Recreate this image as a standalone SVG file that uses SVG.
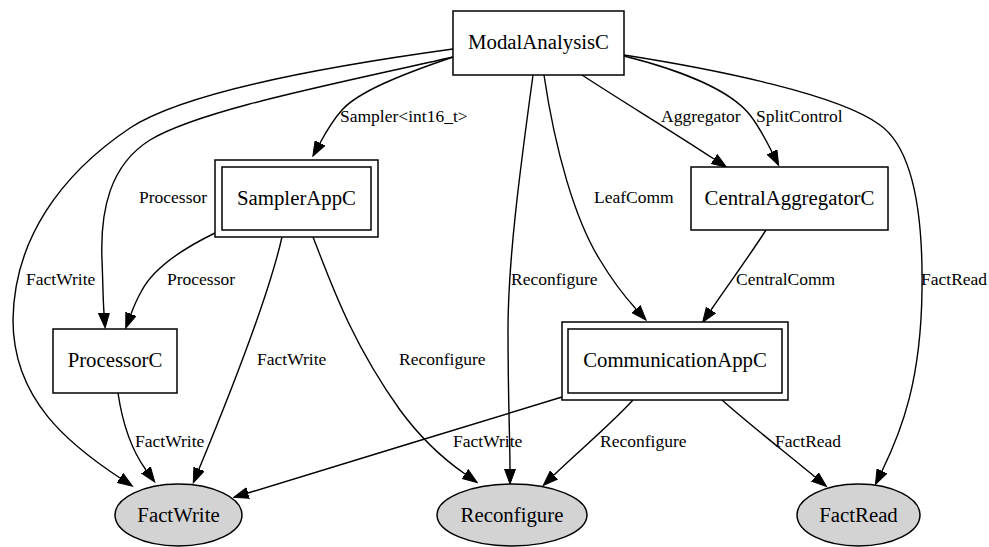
<svg xmlns="http://www.w3.org/2000/svg" width="989" height="547" viewBox="0 0 989 547">
  <style>
    .node rect { fill: #ffffff; stroke: #000000; stroke-width: 1.5; }
    .node ellipse { fill: #d3d3d3; stroke: #000000; stroke-width: 1.5; }
    .node text { font-family: "Liberation Serif", "Times New Roman", serif; font-size: 20.8px; text-anchor: middle; fill: #000000; }
    #edges path { fill: none; stroke: #000000; stroke-width: 1.4; marker-end: url(#arrow); }
    #edges text { font-family: "Liberation Serif", "Times New Roman", serif; font-size: 17.5px; fill: #000000; }
  </style>
  <defs>
    <marker id="arrow" markerUnits="userSpaceOnUse" viewBox="0 -6 16 12" refX="0" refY="0" markerWidth="16" markerHeight="12" orient="auto">
      <path d="M0,-5.5 L15,0 L0,5.5 Z" fill="#000000" stroke="#000000" stroke-width="1"/>
    </marker>
  </defs>
  <rect width="989" height="547" fill="#ffffff"/>

  <g id="edges">
    <!-- ModalAnalysisC -> SamplerAppC -->
    <path d="M453,57 C400,75 358,92 342,110 C332,121 326,132 320,143"/>
    <text x="340" y="122">Sampler&lt;int16_t&gt;</text>
    <!-- ModalAnalysisC -> ProcessorC -->
    <path d="M453,57 C330,85 200,110 150,140 C110,165 100,210 102,260 C103,285 103,300 104,313"/>
    <text x="139" y="203">Processor</text>
    <!-- ModalAnalysisC -> FactWrite -->
    <path d="M453,49 C300,70 180,95 130,128 C60,175 14,240 13,320 C13,400 70,445 120,478"/>
    <text x="26" y="285">FactWrite</text>
    <!-- ModalAnalysisC -> Reconfigure -->
    <path d="M533,75 C520,170 508,260 508,330 C508,400 510,440 510,469"/>
    <text x="511" y="285">Reconfigure</text>
    <!-- ModalAnalysisC -> CommunicationAppC -->
    <path d="M544,75 C555,150 575,220 600,260 C615,285 626,298 636,309"/>
    <text x="594" y="203">LeafComm</text>
    <!-- ModalAnalysisC -> CentralAggregatorC (Aggregator) -->
    <path d="M582,75 C620,100 670,130 714,159"/>
    <text x="661" y="122">Aggregator</text>
    <!-- ModalAnalysisC -> CentralAggregatorC (SplitControl) -->
    <path d="M624,56 C680,70 730,90 750,115 C760,128 766,140 772,152"/>
    <text x="756" y="122">SplitControl</text>
    <!-- ModalAnalysisC -> FactRead -->
    <path d="M624,55 C720,70 840,95 880,125 C915,150 923,220 922,290 C921,380 902,430 882,471"/>
    <text x="921" y="285">FactRead</text>
    <!-- CentralAggregatorC -> CommunicationAppC -->
    <path d="M766,230 C750,255 728,285 711,310"/>
    <text x="736" y="285">CentralComm</text>
    <!-- SamplerAppC -> ProcessorC -->
    <path d="M215,233 C180,250 152,270 141,292 C137,299 134,306 131,314"/>
    <text x="167" y="285">Processor</text>
    <!-- SamplerAppC -> FactWrite -->
    <path d="M282,237 C270,290 240,370 199,469"/>
    <text x="257" y="365">FactWrite</text>
    <!-- SamplerAppC -> Reconfigure -->
    <path d="M313,237 C330,280 350,340 400,410 C422,440 442,458 465,474"/>
    <text x="399" y="365">Reconfigure</text>
    <!-- ProcessorC -> FactWrite -->
    <path d="M118,393 C122,420 130,448 146,470"/>
    <text x="135" y="447">FactWrite</text>
    <!-- CommunicationAppC -> FactWrite -->
    <path d="M562,397 C470,425 340,465 248,493"/>
    <text x="453" y="447">FactWrite</text>
    <!-- CommunicationAppC -> Reconfigure -->
    <path d="M633,400 C610,425 580,450 554,475"/>
    <text x="600" y="447">Reconfigure</text>
    <!-- CommunicationAppC -> FactRead -->
    <path d="M722,400 C750,425 785,452 815,477"/>
    <text x="775" y="447">FactRead</text>
  </g>

  <g id="ModalAnalysisC" class="node">
    <rect x="453" y="11" width="171" height="64"/>
    <text x="538.5" y="49">ModalAnalysisC</text>
  </g>
  <g id="SamplerAppC" class="node">
    <rect x="215" y="160" width="163" height="77"/>
    <rect x="222" y="167" width="149" height="63"/>
    <text x="296.5" y="205">SamplerAppC</text>
  </g>
  <g id="CentralAggregatorC" class="node">
    <rect x="691" y="167" width="197" height="63"/>
    <text x="789.5" y="205">CentralAggregatorC</text>
  </g>
  <g id="ProcessorC" class="node">
    <rect x="53" y="329" width="124" height="64"/>
    <text x="115" y="367">ProcessorC</text>
  </g>
  <g id="CommunicationAppC" class="node">
    <rect x="562" y="322" width="226" height="78"/>
    <rect x="568" y="329" width="214" height="64"/>
    <text x="675" y="367">CommunicationAppC</text>
  </g>
  <g id="FactWrite" class="node">
    <ellipse cx="178.5" cy="515" rx="63.5" ry="31"/>
    <text x="178.5" y="522">FactWrite</text>
  </g>
  <g id="Reconfigure" class="node">
    <ellipse cx="512" cy="515" rx="75" ry="31"/>
    <text x="512" y="522">Reconfigure</text>
  </g>
  <g id="FactRead" class="node">
    <ellipse cx="858.5" cy="515" rx="61.5" ry="31"/>
    <text x="858.5" y="522">FactRead</text>
  </g>
</svg>
